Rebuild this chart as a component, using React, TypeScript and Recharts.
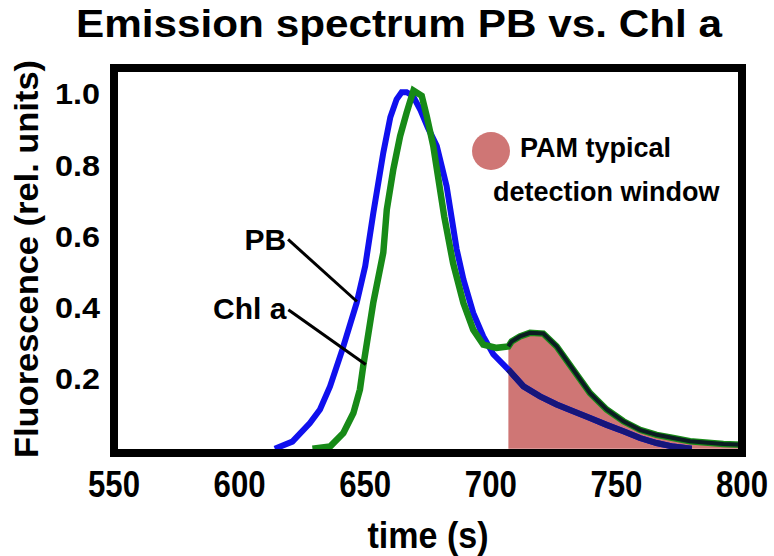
import React from 'react';
import {
  ComposedChart,
  Line,
  Area,
  XAxis,
  YAxis,
  ReferenceLine,
  ReferenceDot,
  Label,
  Legend,
} from 'recharts';

// ---------- data ----------
const xTicks = [550, 600, 650, 700, 750, 800];
const yTicks = [0.2, 0.4, 0.6, 0.8, 1.0];
const xDomain = [550, 800];
const yDomain = [-0.012, 1.068];

const pbTime = [614, 621, 628, 632, 636, 641, 646.6, 650, 653.2, 657.2, 660, 662.5, 664.5, 666.5, 669, 672, 675, 678.5, 682.4, 686.4, 689.1, 693, 697, 701, 707, 713, 719.6, 726.2, 732.8, 739.5, 746.1, 752.8, 759.4, 766, 772.6, 780];
const pbValue = [0, 0.02, 0.072, 0.11, 0.175, 0.28, 0.409, 0.512, 0.66, 0.83, 0.93, 0.98, 1.0, 1.0, 0.99, 0.95, 0.9, 0.849, 0.737, 0.56, 0.475, 0.381, 0.315, 0.265, 0.222, 0.175, 0.147, 0.124, 0.105, 0.086, 0.067, 0.049, 0.03, 0.016, 0.006, 0];

const chlTime = [629, 636, 641.3, 645.3, 647.9, 649.2, 653.2, 657.2, 658.6, 661.2, 663.9, 666.5, 669.2, 672.5, 674.5, 677.1, 681.5, 685, 689.1, 693, 697, 702.3, 707, 708.3, 711.6, 715.6, 720.9, 726.2, 732.8, 739.5, 746.1, 752.8, 759.4, 766, 772.6, 779.3, 792.6, 800];
const chlValue = [0, 0.006, 0.044, 0.1, 0.166, 0.231, 0.409, 0.55, 0.671, 0.784, 0.877, 0.943, 1.005, 0.99, 0.933, 0.849, 0.65, 0.52, 0.409, 0.334, 0.292, 0.283, 0.287, 0.301, 0.315, 0.325, 0.323, 0.287, 0.222, 0.156, 0.11, 0.077, 0.053, 0.039, 0.03, 0.021, 0.013, 0.011];

const pamWindowStart = 707;

const seriesNames = { pb: 'PB', chl: 'Chl a' };
const titleText = 'Emission spectrum PB vs. Chl a';
const xLabelText = 'time (s)';
const yLabelText = 'Fluorescence (rel. units)';
const legendLines = ['PAM typical', 'detection window'];

// annotation anchors (data coordinates)
const pbLeader = [{ x: 619.3, y: 0.587 }, { x: 646.7, y: 0.413 }];
const chlLeader = [{ x: 619.4, y: 0.39 }, { x: 650.2, y: 0.236 }];

// ---------- derived tables ----------
const pbData = pbTime.map((t, i) => ({ t, v: pbValue[i] }));
const chlData = chlTime.map((t, i) => ({ t, v: chlValue[i] }));
const pbWindow = pbData.filter((d) => d.t >= pamWindowStart);
const chlWindow = chlData.filter((d) => d.t >= pamWindowStart);

// ---------- styles ----------
const FONT = '"Liberation Sans", Arial, Helvetica, sans-serif';
const BLUE = '#1010ee';
const NAVY = '#16167a';
const GREEN = '#178a17';
const DARK = '#0b1c22';
const PAM = '#cf7675';

const W = 774;
const H = 556;
const PLOT_LEFT = 114;
const PLOT_RIGHT = 742;
const PLOT_TOP = 68;
const PLOT_BOTTOM = 453;
const YAXIS_W = 60;
const XAXIS_H = 60;

const frameLine = { stroke: '#000', strokeWidth: 8, strokeLinecap: 'square' as const };

const XTick = (props: any) => {
  const { x, y, payload } = props;
  return (
    <text
      x={x}
      y={y + 36}
      textAnchor="middle"
      fontFamily={FONT}
      fontWeight="bold"
      fontSize={36}
      textLength={52}
      lengthAdjust="spacingAndGlyphs"
      fill="#000"
    >
      {payload.value}
    </text>
  );
};

const YTick = (props: any) => {
  const { x, y, payload } = props;
  return (
    <text
      x={x - 6}
      y={y + 12}
      textAnchor="end"
      fontFamily={FONT}
      fontWeight="bold"
      fontSize={30}
      textLength={45}
      lengthAdjust="spacingAndGlyphs"
      fill="#000"
    >
      {Number(payload.value).toFixed(1)}
    </text>
  );
};

const LegendBox = () => (
  <div style={{ position: 'relative', width: 270, height: 90, fontFamily: FONT, fontWeight: 'bold', fontSize: 27, color: '#000' }}>
    <div style={{ position: 'absolute', left: 2, top: 2, width: 38, height: 38, borderRadius: '50%', background: PAM }} />
    <div style={{ position: 'absolute', left: 50, top: 5, lineHeight: '27px', whiteSpace: 'nowrap' }}>{legendLines[0]}</div>
    <div style={{ position: 'absolute', left: 23, top: 49, lineHeight: '27px', whiteSpace: 'nowrap' }}>{legendLines[1]}</div>
  </div>
);

const annotationLabel = (text: string, dy: number) => (props: any) => {
  const vb = props.viewBox || {};
  return (
    <text x={vb.x - 1} y={vb.y + dy} textAnchor="end" fontFamily={FONT} fontWeight="bold" fontSize={30} fill="#000">
      {text}
    </text>
  );
};

export default function App() {
  return (
    <div style={{ position: 'absolute', left: 0, top: 0, width: W, height: H, background: '#fff' }}>
      <ComposedChart
        width={W}
        height={H}
        margin={{ top: PLOT_TOP, left: PLOT_LEFT - YAXIS_W, right: W - PLOT_RIGHT, bottom: H - PLOT_BOTTOM - XAXIS_H }}
      >
        <Legend
          layout="horizontal"
          verticalAlign="middle"
          align="center"
          wrapperStyle={{ position: 'absolute', left: 470, top: 130, width: 270, height: 90 }}
          content={() => <LegendBox />}
        />
        <Area
          data={chlWindow}
          dataKey="v"
          type="linear"
          fill={PAM}
          fillOpacity={1}
          stroke="none"
          baseValue={0}
          isAnimationActive={false}
          dot={false}
          activeDot={false}
        />
        <Line data={pbData} dataKey="v" name={seriesNames.pb} type="linear" stroke={BLUE} strokeWidth={6} dot={false} activeDot={false} isAnimationActive={false} />
        <Line data={pbWindow} dataKey="v" type="linear" stroke={NAVY} strokeWidth={6} dot={false} activeDot={false} isAnimationActive={false} />
        <Line data={chlData} dataKey="v" name={seriesNames.chl} type="linear" stroke={GREEN} strokeWidth={6.5} dot={false} activeDot={false} isAnimationActive={false} />
        <Line data={chlWindow} dataKey="v" type="linear" stroke={DARK} strokeWidth={4} dot={false} activeDot={false} isAnimationActive={false} />

        <ReferenceLine segment={pbLeader} stroke="#000" strokeWidth={3} ifOverflow="visible" />
        <ReferenceLine segment={chlLeader} stroke="#000" strokeWidth={3} ifOverflow="visible" />
        <ReferenceDot x={pbLeader[0].x} y={pbLeader[0].y} r={1} fill="none" stroke="none" ifOverflow="visible" label={{ content: annotationLabel(seriesNames.pb, 12) }} />
        <ReferenceDot x={chlLeader[0].x} y={chlLeader[0].y} r={1} fill="none" stroke="none" ifOverflow="visible" label={{ content: annotationLabel(seriesNames.chl, 10) }} />

        {/* top and right sides of the plot frame */}
        <ReferenceLine y={yDomain[1]} stroke="#000" strokeWidth={8} strokeLinecap="square" ifOverflow="visible" />
        <ReferenceLine x={xDomain[1]} stroke="#000" strokeWidth={8} strokeLinecap="square" ifOverflow="visible" />

        <XAxis
          type="number"
          dataKey="t"
          domain={xDomain}
          ticks={xTicks}
          interval={0}
          allowDataOverflow
          height={XAXIS_H}
          tickLine={false}
          axisLine={frameLine}
          tick={<XTick />}
        >
          <Label
            content={() => (
              <text x={428} y={548} textAnchor="middle" fontFamily={FONT} fontWeight="bold" fontSize={36} textLength={121} lengthAdjust="spacingAndGlyphs" fill="#000">
                {xLabelText}
              </text>
            )}
          />
          <Label
            content={() => (
              <text x={399} y={37} textAnchor="middle" fontFamily={FONT} fontWeight="bold" fontSize={39} textLength={646} lengthAdjust="spacingAndGlyphs" fill="#000">
                {titleText}
              </text>
            )}
          />
        </XAxis>
        <YAxis
          type="number"
          domain={yDomain}
          ticks={yTicks}
          interval={0}
          allowDataOverflow
          width={YAXIS_W}
          tickLine={false}
          axisLine={frameLine}
          tick={<YTick />}
        >
          <Label
            content={() => (
              <text transform="translate(38,259) rotate(-90)" x={0} y={0} textAnchor="middle" fontFamily={FONT} fontWeight="bold" fontSize={34} textLength={398} lengthAdjust="spacingAndGlyphs" fill="#000">
                {yLabelText}
              </text>
            )}
          />
        </YAxis>
      </ComposedChart>
    </div>
  );
}
